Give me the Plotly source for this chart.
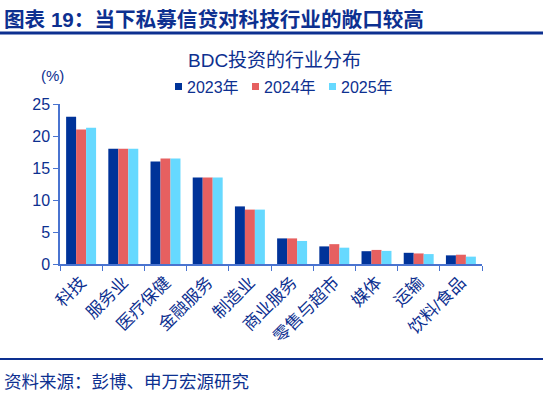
import plotly.graph_objects as go

categories = ["科技", "服务业", "医疗保健", "金融服务", "制造业", "商业服务", "零售与超市", "媒体", "运输", "饮料/食品"]
series_names = ["2023年", "2024年", "2025年"]
v2023 = [23.0, 18.0, 16.0, 13.5, 9.0, 4.0, 2.75, 2.0, 1.75, 1.35]
v2024 = [21.0, 18.0, 16.5, 13.5, 8.5, 4.0, 3.1, 2.2, 1.65, 1.45]
v2025 = [21.3, 18.0, 16.5, 13.5, 8.5, 3.6, 2.55, 2.05, 1.55, 1.15]
y_ticks = [0, 5, 10, 15, 20, 25]

colors = ["#003399", "#E66060", "#66D9FF"]
TXT = "#0D3090"
FONT = "Liberation Sans, Arial, Noto Sans CJK SC, sans-serif"

fig = go.Figure()
for name, vals, c in zip(series_names, [v2023, v2024, v2025], colors):
    fig.add_trace(go.Bar(x=categories, y=vals, name=name, showlegend=False,
                         marker=dict(color=c, line=dict(width=0))))

L, R, T, B = 60, 68, 104, 135
W, H = 550, 399
pw, ph = W - L - R, H - T - B

def px(x):
    return (x - L) / pw

def py(y):
    return (H - B - y) / ph

fig.update_layout(
    width=W, height=H,
    margin=dict(l=L, r=R, t=T, b=B, autoexpand=False),
    plot_bgcolor="white", paper_bgcolor="white",
    barmode="group", bargap=0.29, bargroupgap=0,
    font=dict(family=FONT, size=16, color=TXT),
    xaxis=dict(tickangle=-45, showline=True, linecolor="#4A74D0", linewidth=1.5, automargin=False,
               ticks="outside", tickson="boundaries", ticklen=5, tickcolor="#4A74D0",
               tickfont=dict(size=17, color=TXT), showgrid=False),
    yaxis=dict(range=[0, 25], tickvals=y_ticks, showline=True, linecolor="#4A74D0", linewidth=1.5,
               automargin=False, ticks="outside", ticklen=5, tickcolor="#4A74D0", showgrid=False,
               zeroline=False, tickfont=dict(size=16, color=TXT)),
)

# manual legend
leg_x = [175, 252, 329]
for name, c, lx in zip(series_names, colors, leg_x):
    fig.add_shape(type="rect", xref="paper", yref="paper", x0=px(lx), x1=px(lx + 7),
                  y0=py(90), y1=py(83), fillcolor=c, line=dict(width=0))
    fig.add_annotation(text=name, xref="paper", yref="paper", x=px(lx + 10), y=py(87),
                       xanchor="left", yanchor="middle", showarrow=False,
                       font=dict(size=16, color=TXT))

fig.add_annotation(text="<b>图表 19：当下私募信贷对科技行业的敞口较高</b>", xref="paper", yref="paper",
                   x=px(2), y=py(19), xanchor="left", yanchor="middle", showarrow=False,
                   font=dict(size=20.6, color=TXT, family=FONT))
fig.add_shape(type="line", xref="paper", yref="paper", x0=px(0), x1=px(543), y0=py(33), y1=py(33),
              line=dict(color="#0D3090", width=3))
fig.add_annotation(text="BDC投资的行业分布", xref="paper", yref="paper", x=px(274), y=py(60),
                   xanchor="center", yanchor="middle", showarrow=False, font=dict(size=19, color=TXT))
fig.add_annotation(text="(%)", xref="paper", yref="paper", x=px(52), y=py(75),
                   xanchor="center", yanchor="middle", showarrow=False, font=dict(size=15, color=TXT))
fig.add_shape(type="line", xref="paper", yref="paper", x0=px(0), x1=px(543), y0=py(359), y1=py(359),
              line=dict(color="#0D3090", width=2))
fig.add_annotation(text="资料来源：彭博、申万宏源研究", xref="paper", yref="paper", x=px(2), y=py(382),
                   xanchor="left", yanchor="middle", showarrow=False, font=dict(size=17.5, color=TXT))

fig.write_html("out.html", config={"displayModeBar": False},
               post_script="document.body.style.margin='0';")
